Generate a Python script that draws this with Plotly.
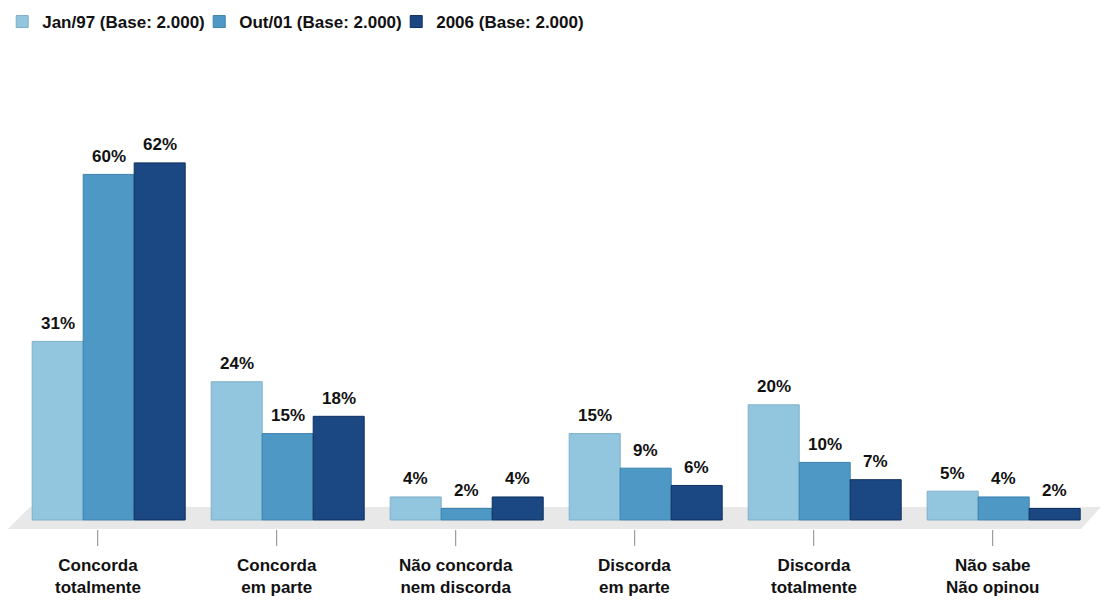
import plotly.graph_objects as go

categories = ["Concorda<br>totalmente", "Concorda<br>em parte", "Não concorda<br>nem discorda",
              "Discorda<br>em parte", "Discorda<br>totalmente", "Não sabe<br>Não opinou"]
series_names = ["Jan/97 (Base: 2.000)", "Out/01 (Base: 2.000)", "2006 (Base: 2.000)"]
jan97 = [31, 24, 4, 15, 20, 5]
out01 = [60, 15, 2, 9, 10, 4]
y2006 = [62, 18, 4, 6, 7, 2]
colors = ["#92C5DE", "#4E98C6", "#1B4782"]
edge_colors = ["#7FAFC8", "#3C82AE", "#0F2F5C"]

W, H = 1104, 602
# pixel mapping
px_per_x = 179.0
x0_px = 108.7
px_per_y = 5.76
base_py = 520.0
x_range = [(0 - x0_px) / px_per_x, (W - x0_px) / px_per_x]
y_range = [(base_py - H) / px_per_y, base_py / px_per_y]

def xd(px):
    return (px - x0_px) / px_per_x

def yd(py):
    return (base_py - py) / px_per_y

xs = list(range(len(categories)))
font_family = "Liberation Sans, Arial, sans-serif"

fig = go.Figure()
for name, vals, c, ec in zip(series_names, [jan97, out01, y2006], colors, edge_colors):
    fig.add_trace(go.Bar(x=xs, y=vals, name=f"<b>{name}</b>",
                         marker=dict(color=c, line=dict(color=ec, width=1)),
                         hoverinfo="y+name"))

offset_group = 153.0 / px_per_x / 3
annotations = []
for si, vals in enumerate([jan97, out01, y2006]):
    for i, v in enumerate(vals):
        annotations.append(dict(x=i + (si - 1) * offset_group, y=v, text=f"<b>{v}%</b>",
                                showarrow=False, yanchor="middle", yshift=18,
                                font=dict(size=17, color="#111111", family=font_family)))

tick_off = -11.0 / px_per_x
shapes = [dict(type="path", xref="x", yref="y", layer="below",
               path=f"M{xd(8)},{yd(529)} L{xd(30)},{yd(507)} L{xd(1101)},{yd(507)} L{xd(1081)},{yd(529)} Z",
               fillcolor="#E8E8E8", line=dict(width=0))]
for i, cat in enumerate(categories):
    shapes.append(dict(type="line", xref="x", yref="y", x0=i + tick_off, x1=i + tick_off,
                       y0=yd(530), y1=yd(546), line=dict(color="#888888", width=1)))
    annotations.append(dict(x=i + tick_off, y=yd(576), text=f"<b>{cat}</b>", showarrow=False,
                            yanchor="middle", font=dict(size=17, color="#111111", family=font_family)))

fig.update_layout(
    width=W, height=H,
    margin=dict(l=0, r=0, t=0, b=0),
    paper_bgcolor="white", plot_bgcolor="white",
    barmode="group", bargap=1 - 153.0 / px_per_x, bargroupgap=0,
    xaxis=dict(range=x_range, showgrid=False, zeroline=False, showticklabels=False, fixedrange=True),
    yaxis=dict(range=y_range, showgrid=False, zeroline=False, showticklabels=False, fixedrange=True),
    showlegend=True,
    legend=dict(orientation="h", x=0.002, y=1 - 4.0 / H, xanchor="left", yanchor="top",
                font=dict(size=17, color="#111111", family=font_family),
                bgcolor="rgba(0,0,0,0)", itemwidth=30, traceorder="normal",
                entrywidth=152, entrywidthmode="pixels"),
    font=dict(family=font_family),
    shapes=shapes, annotations=annotations,
)

fig.write_html("out.html")
